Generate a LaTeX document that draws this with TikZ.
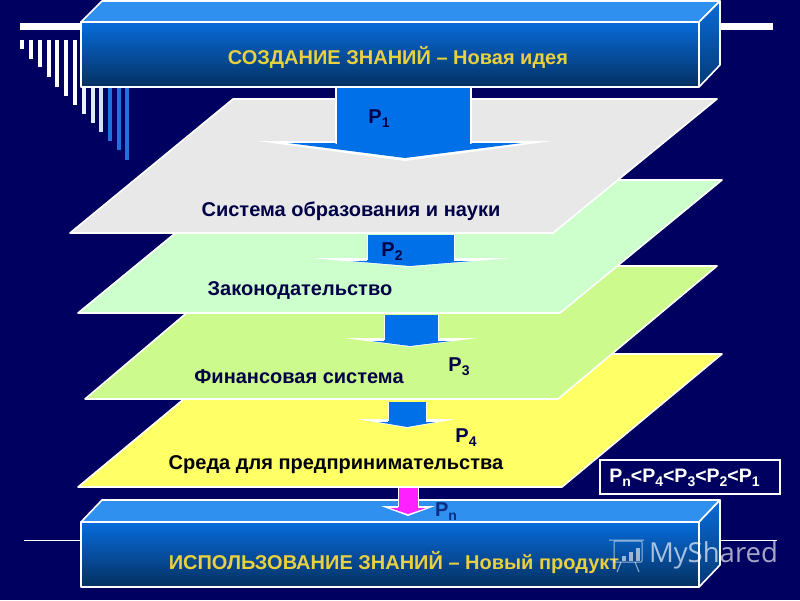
\documentclass[tikz,border=0pt]{standalone}
\usepackage{fontspec}
\setmainfont{Liberation Sans}
\newfontfamily\markfont{Open Sans}
\usepackage{xcolor}
\usetikzlibrary{positioning}
\definecolor{dfnavy}{RGB}{0,0,96}
\definecolor{dfink}{RGB}{0,0,70}
\definecolor{dfblue}{RGB}{0,112,232}
\definecolor{dfbar}{RGB}{32,112,224}
\definecolor{dftop}{RGB}{48,144,240}
\definecolor{dfupper}{RGB}{8,108,220}
\definecolor{dflower}{RGB}{4,48,96}
\definecolor{dfgold}{RGB}{232,208,64}
\definecolor{dfgrey}{RGB}{232,232,232}
\definecolor{dfmint}{RGB}{204,255,204}
\definecolor{dflime}{RGB}{204,250,140}
\definecolor{dfyellow}{RGB}{255,255,102}
\definecolor{dfpink}{RGB}{255,32,255}
\tikzstyle{edge} = [draw=white, line width=1.6pt, line join=round]
\tikzstyle{slab} = [draw=white, line width=1.6pt, line join=round]
\tikzstyle{front} = [edge, top color=dfupper, bottom color=dflower]
\tikzstyle{side} = [edge, top color=dfupper, bottom color=dflower!85!dfupper]
\tikzstyle{boxtext} = [text=dfgold, font=\fontsize{20}{24}\selectfont\bfseries]
\tikzstyle{slabtext} = [text=dfink, font=\fontsize{20}{24}\selectfont\bfseries]
\tikzstyle{plabel} = [text=dfink, font=\fontsize{20}{24}\selectfont\bfseries, inner sep=0pt]
\newcommand{\psub}[1]{P\raisebox{-4pt}{\fontsize{14}{14}\selectfont #1}}
\begin{document}
\begin{tikzpicture}[x=1pt, y=-1pt]
\fill [dfnavy] (0,0) rectangle (800,600);
\useasboundingbox (0,0) rectangle (800,600);

% Corner ornament
\fill [white] (20,23) rectangle (81,30);
\fill [white] (720,23) rectangle (773,30);
\foreach \xpos/\ypos/\barcol in {20/49/white, 29/59/white, 38/67/white, 47/77/white, 55/87/white, 64/96/white, 73/105/white, 82/114/white!90!dfbar, 91/123/white!85!dfbar, 99/132/white!80!dfbar, 108/141/dfbar, 117/150/dfbar, 125/160/dfbar}
  \fill [\barcol] (\xpos,40) rectangle (\xpos+4,\ypos);
\draw [white, line width=0.7pt] (24,540) -- (81,540);
\draw [white, line width=0.7pt] (720,540) -- (777,540);

% Layer 4: Yellow
\draw [slab, fill=dfyellow] (238,354) -- (722,354) -- (562,487) -- (78,487) -- cycle;
% Layer 3: Lime
\draw [slab, fill=dflime] (242,266) -- (717,266) -- (558,399) -- (85,399) -- cycle;
% Layer 2: Mint
\draw [slab, fill=dfmint] (240,180) -- (722,180) -- (560,313) -- (78,313) -- cycle;
% Layer 1: Grey
\draw [slab, fill=dfgrey] (233,99) -- (717,99) -- (553,233) -- (70,233) -- cycle;

% Arrow P1
\fill [white] (257,141) -- (552,141) -- (405,161) -- cycle;
\fill [dfblue] (288,143) -- (522,143) -- (405,158) -- cycle;
\draw [edge, fill=dfblue] (336,87) -- (336,143) -- (471,143) -- (471,87);
\fill [dfblue] (337,142) rectangle (470,145);
% Arrow P2
\fill [white] (311,258) -- (510,258) -- (410,267) -- cycle;
\fill [dfblue] (350,261) -- (472,261) -- (410,266) -- cycle;
\fill [dfblue] (367,235) rectangle (454,262);
\draw [white, line width=1pt] (367,235) -- (367,260) (454,235) -- (454,260);
% Arrow P3
\fill [white] (345,338) -- (477,338) -- (410,347) -- cycle;
\fill [dfblue] (371,341) -- (451,341) -- (410,346) -- cycle;
\fill [dfblue] (384,315) rectangle (438,342);
\draw [white, line width=1pt] (384,315) -- (384,340) (438,315) -- (438,340);
% Arrow P4
\fill [white] (357,419) -- (456,419) -- (407,428) -- cycle;
\fill [dfblue] (378,422) -- (436,422) -- (407,427) -- cycle;
\fill [dfblue] (388,402) rectangle (426,423);
\draw [white, line width=1pt] (388,402) -- (388,421) (426,402) -- (426,421);

% Top block
\draw [edge, fill=dftop] (81,22) -- (102,1) -- (720,1) -- (699,22) -- cycle;
\draw [side] (699,22) -- (720,1) -- (720,65) -- (699,87) -- cycle;
\draw [front] (81,22) rectangle (699,87);
\node (create) [boxtext] at (398,57) {СОЗДАНИЕ ЗНАНИЙ – Новая идея};

% Bottom block
\draw [edge, fill=dftop] (81,522) -- (102,500) -- (720,500) -- (699,522) -- cycle;
\draw [side] (699,522) -- (720,500) -- (720,565) -- (699,587) -- cycle;
\draw [front] (81,522) rectangle (699,587);
\node (use) [boxtext] at (394,563) {ИСПОЛЬЗОВАНИЕ ЗНАНИЙ – Новый продукт};

% Arrow Pn
\fill [white] (381,506) -- (435,506) -- (408,516) -- cycle;
\fill [dfpink] (390,508) -- (426,508) -- (408,514) -- cycle;
\fill [dfpink] (398,488) rectangle (418,509);
\draw [white, line width=1pt] (398,488) -- (398,507) (418,488) -- (418,507);

% Layer labels
\node (education) [slabtext] at (351,211) {Система образования и науки};
\node (law) [slabtext] at (300,291) {Законодательство};
\node (finance) [slabtext] at (299,377) {Финансовая система};
\node (business) [slabtext, text=black!90!dfink] at (336,465) {Среда для предпринимательства};

% Flow labels
\node (pone) [plabel] at (379,119) {\psub{1}};
\node (ptwo) [plabel] at (392,252) {\psub{2}};
\node (pthree) [plabel] at (459,367) {\psub{3}};
\node (pfour) [plabel] at (466,438) {\psub{4}};
\node (pn) [plabel, text=dfink!60!dfbar] at (446,512) {\psub{n}};

% Order of the flows
\node (order) [draw=white, line width=1.2pt, fill=dfnavy, minimum width=180pt, minimum height=34pt, inner sep=0pt] at (690,477) {};
\node (ordertext) [text=white, inner sep=0pt, font=\fontsize{19.5}{24}\selectfont\bfseries] at (684.5,478) {\psub{n}<\psub{4}<\psub{3}<\psub{2}<\psub{1}};

% Watermark
\node (mark) [text=white, opacity=0.65, font=\markfont\fontsize{27.5}{32}\selectfont] at (713.5,555) {MyShared};
\draw [white, opacity=0.6, line width=1pt, rounded corners=1pt] (614,541) rectangle (642,562);
\draw [white, opacity=0.6, line width=1pt] (609,540) -- (644,540) (621,562) -- (617,572) (635,562) -- (639,572);
\foreach \xpos/\ypos in {622/556, 629/552, 636/548}
  \fill [white, opacity=0.6] (\xpos,\ypos) rectangle (\xpos+4,561);
\end{tikzpicture}
\end{document}
